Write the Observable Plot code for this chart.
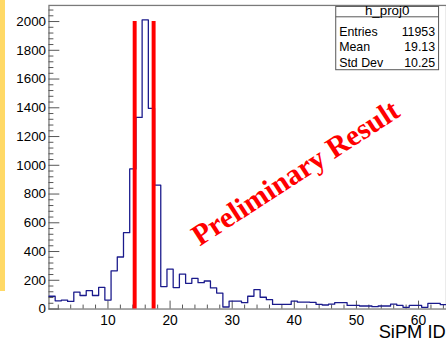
<!DOCTYPE html>
<html><head><meta charset="utf-8">
<script src="https://cdn.jsdelivr.net/npm/d3@7"></script>
<script src="https://cdn.jsdelivr.net/npm/@observablehq/plot@0.6"></script>
<style>
html,body{margin:0;padding:0;background:#fff;overflow:hidden;}
#wrap{position:relative;width:446px;height:346px;overflow:hidden;background:#fff;}
#chart{position:absolute;left:0;top:0;}
#bar{position:absolute;left:0;top:0;width:4.5px;height:291px;background:#ffd966;}
</style></head><body>
<div id="wrap"><div id="chart"></div><div id="bar"></div></div>
<script>
// SiPM channel ids and counts per channel (histogram h_proj0)
const sipmIds = d3.range(1, 65);
const counts = [89, 57, 62, 53, 117, 94, 128, 94, 151, 62,
  266, 362, 531, 975, 1333, 2011, 1396, 862, 156, 277,
  149, 243, 179, 213, 183, 195, 147, 111, 14, 55,
  55, 44, 89, 135, 82, 65, 32, 32, 32, 55,
  48, 48, 47, 32, 28, 34, 44, 44, 25, 25,
  21, 21, 16, 21, 21, 34, 25, 12, 25, 25,
  12, 39, 39, 30];
// red cut lines
const cutPositions = [14.3, 17.35];
const cutHeight = 2000;
// axis ticks
const xMajorTicks = [10, 20, 30, 40, 50, 60];
const xMinorTicks = [2,4,6,8,12,14,16,18,22,24,26,28,32,34,36,38,42,44,46,48,52,54,56,58,62,64];
const yMajorTicks = [0, 200, 400, 600, 800, 1000, 1200, 1400, 1600, 1800, 2000];
const yMinorTicks = [40,80,120,160,240,280,320,360,440,480,520,560,640,680,720,760,840,880,920,960,
  1040,1080,1120,1160,1240,1280,1320,1360,1440,1480,1520,1560,1640,1680,1720,1760,1840,1880,1920,1960,2040,2080];
// texts
const xTitle = "SiPM ID";
const watermark = "Preliminary Result";
const statsTitle = "h_proj0";
const statsLabels = ["Entries", "Mean", "Std Dev"];
const statsValues = ["11953", "19.13", "10.25"];

const steps = sipmIds.map((id, i) => ({x: id - 0.5, y: counts[i]}))
  .concat([{x: sipmIds[sipmIds.length - 1] + 0.5, y: counts[counts.length - 1]}]);

const svg = Plot.plot({
  width: 451, height: 346,
  marginLeft: 49, marginRight: 0, marginTop: 5, marginBottom: 34,
  style: {fontFamily: "'Liberation Sans', Arial, sans-serif", background: "#fff", overflow: "visible", color: "#000"},
  x: {domain: [0.5, 64.5]},
  y: {domain: [0, 2112]},
  marks: [
    Plot.frame({stroke: "#7a7a7a", strokeWidth: 1.3}),
    Plot.axisY(yMinorTicks, {tickSize: -5, tickFormat: () => "", label: null, stroke: "#555"}),
    Plot.axisY(yMajorTicks, {tickSize: -11, tickPadding: 14, fontSize: 13.5, label: null, stroke: "#555", fill: "#000", tickFormat: d => String(d)}),
    Plot.axisX(xMinorTicks, {tickSize: -4, tickFormat: () => "", label: null, stroke: "#555"}),
    Plot.axisX(xMajorTicks, {tickSize: -8, tickPadding: 14, fontSize: 14, label: null, stroke: "#555", fill: "#000", tickFormat: d => String(d)}),
    Plot.line(steps, {x: "x", y: "y", curve: "step-after", stroke: "#1a1a8c", strokeWidth: 1.3}),
    Plot.ruleX(cutPositions, {y1: 0, y2: cutHeight, stroke: "#ff0000", strokeWidth: 4})
  ]
});
document.getElementById("chart").appendChild(svg);

const s = d3.select(svg);
// axis title
s.append("text").attr("x", 450.7).attr("y", 342).attr("text-anchor", "end")
  .attr("font-size", 18.5).attr("font-family", "'Liberation Sans', Arial, sans-serif")
  .attr("fill", "#000").text(xTitle);
// watermark
s.append("text").attr("transform", "translate(304,183) rotate(-33)")
  .attr("text-anchor", "middle").attr("font-size", 30).attr("font-weight", "bold")
  .attr("font-family", "'Liberation Serif', 'Times New Roman', serif")
  .attr("fill", "#ff0000").text(watermark);
// stats box
const g = s.append("g").attr("font-family", "'Liberation Sans', Arial, sans-serif").attr("fill", "#000");
g.append("rect").attr("x", 339.5).attr("y", 6.5).attr("width", 104).attr("height", 64)
  .attr("fill", "#fff").attr("stroke", "#555").attr("stroke-width", 1);
g.append("line").attr("x1", 339.5).attr("x2", 443.5).attr("y1", 17).attr("y2", 17)
  .attr("stroke", "#555").attr("stroke-width", 1);
g.append("text").attr("x", 391.5).attr("y", 15).attr("text-anchor", "middle")
  .attr("font-size", 13.5).text(statsTitle);
statsLabels.forEach((lab, i) => {
  g.append("text").attr("x", 343).attr("y", 36 + i * 15.8).attr("text-anchor", "start").attr("font-size", 12.5).text(lab);
  g.append("text").attr("x", 440).attr("y", 36 + i * 15.8).attr("text-anchor", "end").attr("font-size", 12.5).text(statsValues[i]);
});
</script>
</body></html>
